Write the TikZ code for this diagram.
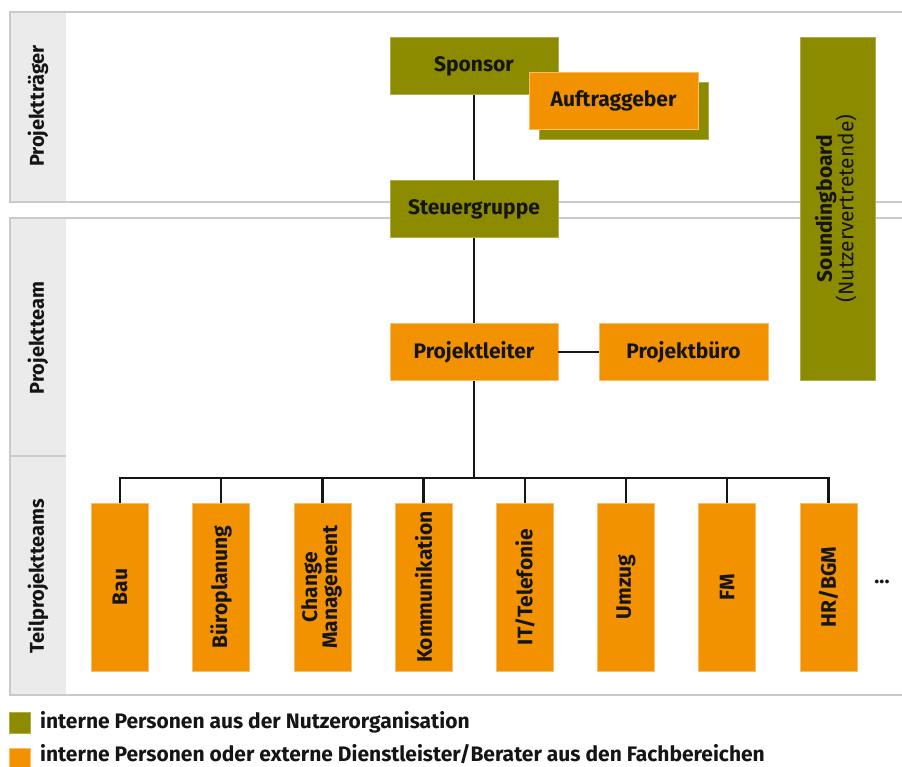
\documentclass[tikz,border=0pt]{standalone}
\usepackage{fontspec}
\setmainfont{Fira Sans}
\definecolor{olive}{HTML}{8C8B00}
\definecolor{orng}{HTML}{F39200}
\definecolor{frame}{HTML}{CACACA}
\definecolor{strip}{HTML}{EAEBEA}
\definecolor{ink}{HTML}{151515}
\begin{document}
\begin{tikzpicture}[x=1pt,y=-1pt,
  lbl/.style={font=\fontsize{21}{23}\selectfont\bfseries, text=ink},
  box/.style={lbl, rectangle, inner sep=0pt, align=center},
  olivebox/.style={box, fill=olive, draw=olive!70!white, line width=0.6pt},
  orangebox/.style={box, fill=orng, draw=orng!60!white, line width=0.6pt},
  wide/.style={minimum width=168pt, minimum height=57pt},
  team/.style={orangebox, minimum width=57pt, minimum height=168pt},
  link/.style={draw=ink, line width=2.4pt},
  band/.style={draw=frame, line width=2.5pt},
  bandlabel/.style={lbl, font=\fontsize{20}{22}\selectfont\bfseries, rotate=90},
  keytext/.style={lbl, anchor=west, inner sep=0pt}
]
\useasboundingbox (0,0) rectangle (902,766);

% side strips and band frames
\fill[strip] (11,13) rectangle (66,201);
\fill[strip] (11,219) rectangle (66,694);
\draw[band] (902,12) -- (10,12) -- (10,202) -- (902,202);
\draw[band] (902,218) -- (10,218) -- (10,695) -- (902,695);
\draw[band] (10,456) -- (66,456);

\node[bandlabel] (lblA) at (38,106) {Projektträger};
\node[bandlabel] (lblB) at (38,338) {Projektteam};
\node[bandlabel] (lblC) at (38,576) {Teilprojektteams};

% upper level
\node[olivebox, wide] (sponsor) at (474,66) {Sponsor};
\node[olivebox, minimum width=169pt, minimum height=57pt] (shadow) at (623.5,110.5) {};
\node[orangebox, minimum width=169pt, minimum height=57pt] (auftrag) at (613.5,101) {Auftraggeber};
\node[olivebox, wide] (steuer) at (474,209) {Steuergruppe};
\node[orangebox, wide] (leiter) at (474,352) {Projektleiter};
\node[orangebox, minimum width=169pt, minimum height=57pt] (buero) at (683.5,352) {Projektbüro};
\node[olivebox, minimum width=75pt, minimum height=343pt] (sound) at (837.5,208.5)
  {\rotatebox{90}{\begin{tabular}{@{}c@{}}Soundingboard\\[-3pt]\mdseries(Nutzervertretende)\end{tabular}}};

% sub-project teams
\node[team] (t1) at (120,587) {\rotatebox{90}{Bau}};
\node[team] (t2) at (221,587) {\rotatebox{90}{Büroplanung}};
\node[team] (t3) at (322.5,587) {\rotatebox{90}{\begin{tabular}{@{}c@{}}Change\\[-3pt]Management\end{tabular}}};
\node[team] (t4) at (423.5,587) {\rotatebox{90}{Kommunikation}};
\node[team] (t5) at (525,587) {\rotatebox{90}{IT/Telefonie}};
\node[team] (t6) at (626,587) {\rotatebox{90}{Umzug}};
\node[team] (t7) at (727,587) {\rotatebox{90}{FM}};
\node[team] (t8) at (828.5,587) {\rotatebox{90}{HR/BGM}};
\node[lbl] (more) at (882,582) {...};

% connectors
\coordinate (bus) at (474,478);
\draw[link] (sponsor) -- (steuer);
\draw[link] (steuer) -- (leiter);
\draw[link] (leiter) -- (buero);
\draw[link] (leiter) -- (bus);
\draw[link, line cap=rect] (t1.north |- bus) -- (t8.north |- bus);
\foreach \t in {t1,t2,t3,t4,t5,t6,t7,t8}
  \draw[link] (\t.north) -- (\t.north |- bus);

% legend
\node[olivebox, minimum width=21pt, minimum height=21pt] (keyA) at (19.5,722.5) {};
\node[keytext] (keyAtext) at (40,722) {interne Personen aus der Nutzerorganisation};
\node[orangebox, minimum width=21pt, minimum height=21pt] (keyB) at (19.5,759) {};
\node[keytext] (keyBtext) at (40,754) {interne Personen oder externe Dienstleister/Berater aus den Fachbereichen};
\end{tikzpicture}
\end{document}
